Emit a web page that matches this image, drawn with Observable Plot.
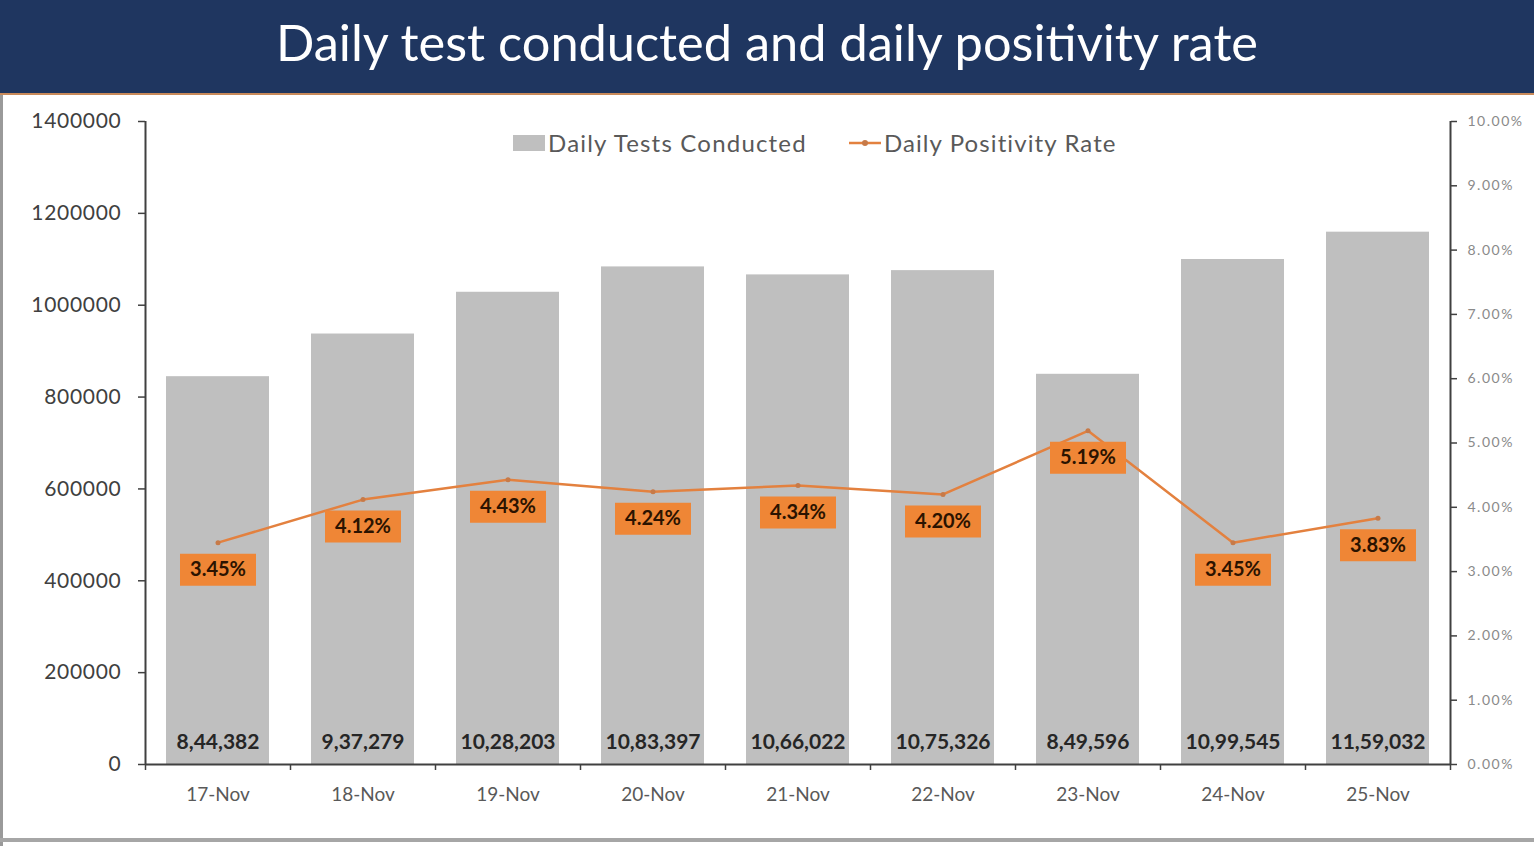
<!DOCTYPE html>
<html><head><meta charset="utf-8">
<script src="https://cdn.jsdelivr.net/npm/d3@7"></script>
<script src="https://cdn.jsdelivr.net/npm/@observablehq/plot@0.6"></script>
<style>
body{margin:0;background:#fff;font-family:Lato,sans-serif;}
#wrap{position:relative;width:1534px;height:846px;overflow:hidden;background:#fff;}
#hdr{height:93px;background:#1f3660;border-bottom:2px solid #c98a5a;color:#fff;text-align:center;font-size:50.5px;line-height:84px;font-family:Lato,sans-serif;}
#chart{position:absolute;left:0;top:95px;}
#lborder{position:absolute;left:0;top:95px;width:3px;height:751px;background:#9a9a9a;}
#bborder{position:absolute;left:0;top:838px;width:1534px;height:4px;background:#a6a6a6;}
#legend{position:absolute;top:128px;left:513px;display:flex;align-items:center;font-size:24px;color:#595959;font-family:Lato,sans-serif;}
#legend .sw{width:32px;height:16px;background:#bfbfbf;margin-right:3px;}
#legend .t1{letter-spacing:1.2px;}
#legend .t2{letter-spacing:1.1px;}
g[aria-label="bar-values"] text{letter-spacing:1.1px;}
g[aria-label="rate-values"] text{letter-spacing:1.5px;}
g[aria-label="date-labels"] text{letter-spacing:0.5px;}
g[aria-label="y-axis tick label"] text{letter-spacing:0.7px;}
g[aria-label="y-axis tick label"].right text{letter-spacing:1.5px;}
</style></head>
<body>
<div id="wrap">
  <div id="hdr">Daily test conducted and daily positivity rate</div>
  <div id="chart"></div>
  <div id="lborder"></div>
  <div id="bborder"></div>
  <div id="legend">
    <div class="sw"></div><span class="t1">Daily Tests Conducted</span>
    <svg width="32" height="14" style="margin-left:42px;margin-right:3px"><line x1="0" y1="7" x2="32" y2="7" stroke="#e3813f" stroke-width="2.5"/><circle cx="16" cy="7" r="3" fill="#c77a48"/></svg><span class="t2">Daily Positivity Rate</span>
  </div>
</div>
<script>
const dates = ["17-Nov","18-Nov","19-Nov","20-Nov","21-Nov","22-Nov","23-Nov","24-Nov","25-Nov"];
const tests = [844382, 937279, 1028203, 1083397, 1066022, 1075326, 849596, 1099545, 1159032];
const rates = [3.45, 4.12, 4.43, 4.24, 4.34, 4.20, 5.19, 3.45, 3.83];
const leftTicks = [0, 200000, 400000, 600000, 800000, 1000000, 1200000, 1400000];
const rightTicks = [0, 1, 2, 3, 4, 5, 6, 7, 8, 9, 10];
const TEST_MAX = 1400000, RATE_MAX = 10;
const toY = r => r / RATE_MAX * TEST_MAX;

function fmtIN(n){
  const s = String(n); const last3 = s.slice(-3); let rest = s.slice(0, -3);
  const parts = [];
  while (rest.length > 2) { parts.unshift(rest.slice(-2)); rest = rest.slice(0, -2); }
  if (rest) parts.unshift(rest);
  return parts.length ? parts.join(",") + "," + last3 : last3;
}

const data = dates.map((d, i) => ({date: d, i, tests: tests[i], rate: rates[i]}));
const boxSymbol = {draw(ctx){ ctx.rect(-38, -16, 76, 32); }};
const cx = d => d.i + 0.5;
const ry = d => toY(d.rate);

const chart = Plot.plot({
  width: 1534, height: 751,
  marginTop: 26, marginBottom: 82, marginLeft: 145, marginRight: 84,
  x: {type: "linear", domain: [0, dates.length], axis: null},
  y: {domain: [0, TEST_MAX], axis: null},
  style: {fontFamily: "Lato, sans-serif", background: "transparent", overflow: "visible"},
  marks: [
    Plot.rectY(data, {x1: "i", x2: d => d.i + 1, y: "tests", fill: "#bfbfbf", insetLeft: 21, insetRight: 21}),
    Plot.text(data, {x: cx, y: () => 0, dy: -22, text: d => fmtIN(d.tests), fontSize: 21, fontWeight: "bold", fill: "#262626", ariaLabel: "bar-values"}),
    Plot.lineY(data, {x: cx, y: ry, stroke: "#e3813f", strokeWidth: 2.5}),
    Plot.dot(data, {x: cx, y: ry, r: 2.5, fill: "#c77a48"}),
    Plot.dot(data, {x: cx, y: ry, dy: 27, r: 5, symbol: boxSymbol, fill: "#ef8636"}),
    Plot.text(data, {x: cx, y: ry, dy: 27, text: d => d.rate.toFixed(2) + "%", fontSize: 20, fontWeight: "bold", fill: "#2b1300", ariaLabel: "rate-values"}),
    Plot.axisY({ticks: leftTicks, anchor: "left", tickFormat: d => String(d), tickSize: 7, tickPadding: 17, fontSize: 21, color: "#404040", label: null, strokeWidth: 1.5}),
    Plot.axisY({ticks: rightTicks.map(toY), anchor: "right", tickFormat: d => (d / TEST_MAX * RATE_MAX).toFixed(2) + "%", tickSize: 6, tickPadding: 11, fontSize: 14, stroke: "#404040", fill: "#8a8a8a", label: null, strokeWidth: 1.5, className: "right"}),
    Plot.axisX({ticks: d3.range(0, dates.length + 1), anchor: "bottom", tickFormat: () => "", tickSize: 6, stroke: "#404040", label: null, strokeWidth: 1.5}),
    Plot.text(data, {x: cx, y: () => 0, dy: 30, text: "date", fontSize: 19, fill: "#595959", ariaLabel: "date-labels"}),
    Plot.ruleX([0], {y1: 0, y2: TEST_MAX, stroke: "#404040", strokeWidth: 2}),
    Plot.ruleX([dates.length], {y1: 0, y2: TEST_MAX, stroke: "#404040", strokeWidth: 2}),
    Plot.ruleY([0], {stroke: "#404040", strokeWidth: 2})
  ]
});
document.getElementById("chart").appendChild(chart);
// right-axis labels: mark the second y-axis tick-label group for letter spacing
const labelGroups = chart.querySelectorAll('g[aria-label="y-axis tick label"]');
if (labelGroups.length > 1) labelGroups[labelGroups.length - 1].classList.add("right");
</script>
</body></html>
